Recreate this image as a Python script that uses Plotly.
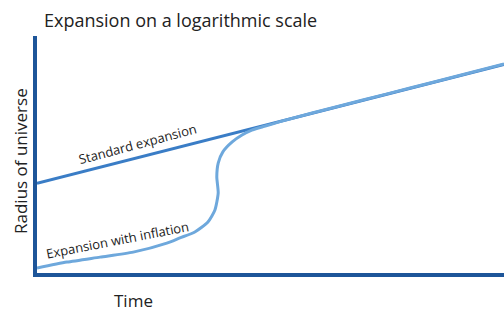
import plotly.graph_objects as go

# Data (time in arbitrary units, log radius in arbitrary units)
std_time = [0.0, 10.0]
std_log_radius = [3.78, 8.80]

infl_time = [0.0, 0.64, 1.35, 2.06, 2.78, 3.06, 3.38, 3.66, 3.81, 3.88, 3.85, 3.88,
             3.98, 4.18, 4.39, 4.60, 4.82, 5.30, 6.5, 7.5, 8.5, 10.0]
infl_log_radius = [0.21, 0.46, 0.67, 0.88, 1.26, 1.48, 1.73, 2.15, 2.66, 3.38, 4.05, 4.64,
                   5.11, 5.53, 5.82, 6.03, 6.16, 6.44, 7.06, 7.56, 8.06, 8.82]

title_text = "Expansion on a logarithmic scale"
x_title = "Time"
y_title = "Radius of universe"
std_label = "Standard expansion"
infl_label = "Expansion with inflation"

FONT = "Open Sans, Lato, sans-serif"
AXIS_COLOR = "#1d5599"
STD_COLOR = "#3a7dc6"
INFL_COLOR = "#6ea8dc"
TXT = "#222222"

W, H = 504, 324
L, R, T, B = 37, 0, 36, 51
PW, PH = W - L - R, H - T - B


def px(xp, yp):
    return (xp - L) / PW, (H - B - yp) / PH


def note(text, xp, yp, size, angle=0, anchor="center"):
    x, y = px(xp, yp)
    return dict(text=text, xref="paper", yref="paper", x=x, y=y,
                xanchor=anchor, yanchor="middle", showarrow=False, textangle=angle,
                font=dict(size=size, color=TXT, family=FONT))


fig = go.Figure()
fig.add_trace(go.Scatter(x=std_time, y=std_log_radius, mode="lines",
                         line=dict(color=STD_COLOR, width=3), hoverinfo="skip"))
fig.add_trace(go.Scatter(x=infl_time, y=infl_log_radius, mode="lines",
                         line=dict(color=INFL_COLOR, width=3, shape="spline", smoothing=0.6),
                         hoverinfo="skip"))

fig.update_layout(
    width=W, height=H,
    margin=dict(l=L, r=R, t=T, b=B),
    paper_bgcolor="white", plot_bgcolor="white",
    showlegend=False,
    font=dict(family=FONT, color=TXT),
    xaxis=dict(range=[0, 10], showgrid=False, zeroline=False, showticklabels=False,
               ticks="", showline=True, linecolor=AXIS_COLOR, linewidth=4, fixedrange=True),
    yaxis=dict(range=[0, 10], showgrid=False, zeroline=False, showticklabels=False,
               ticks="", showline=True, linecolor=AXIS_COLOR, linewidth=4, fixedrange=True),
    annotations=[
        note(title_text, 42, 20, 18, anchor="left"),
        note(x_title, 133, 300, 17),
        note(y_title, 20, 161, 17, angle=-90),
        note(std_label, 137, 144, 13, angle=-15),
        note(infl_label, 117, 240, 13, angle=-11),
    ],
)

fig.write_html("out.html")
